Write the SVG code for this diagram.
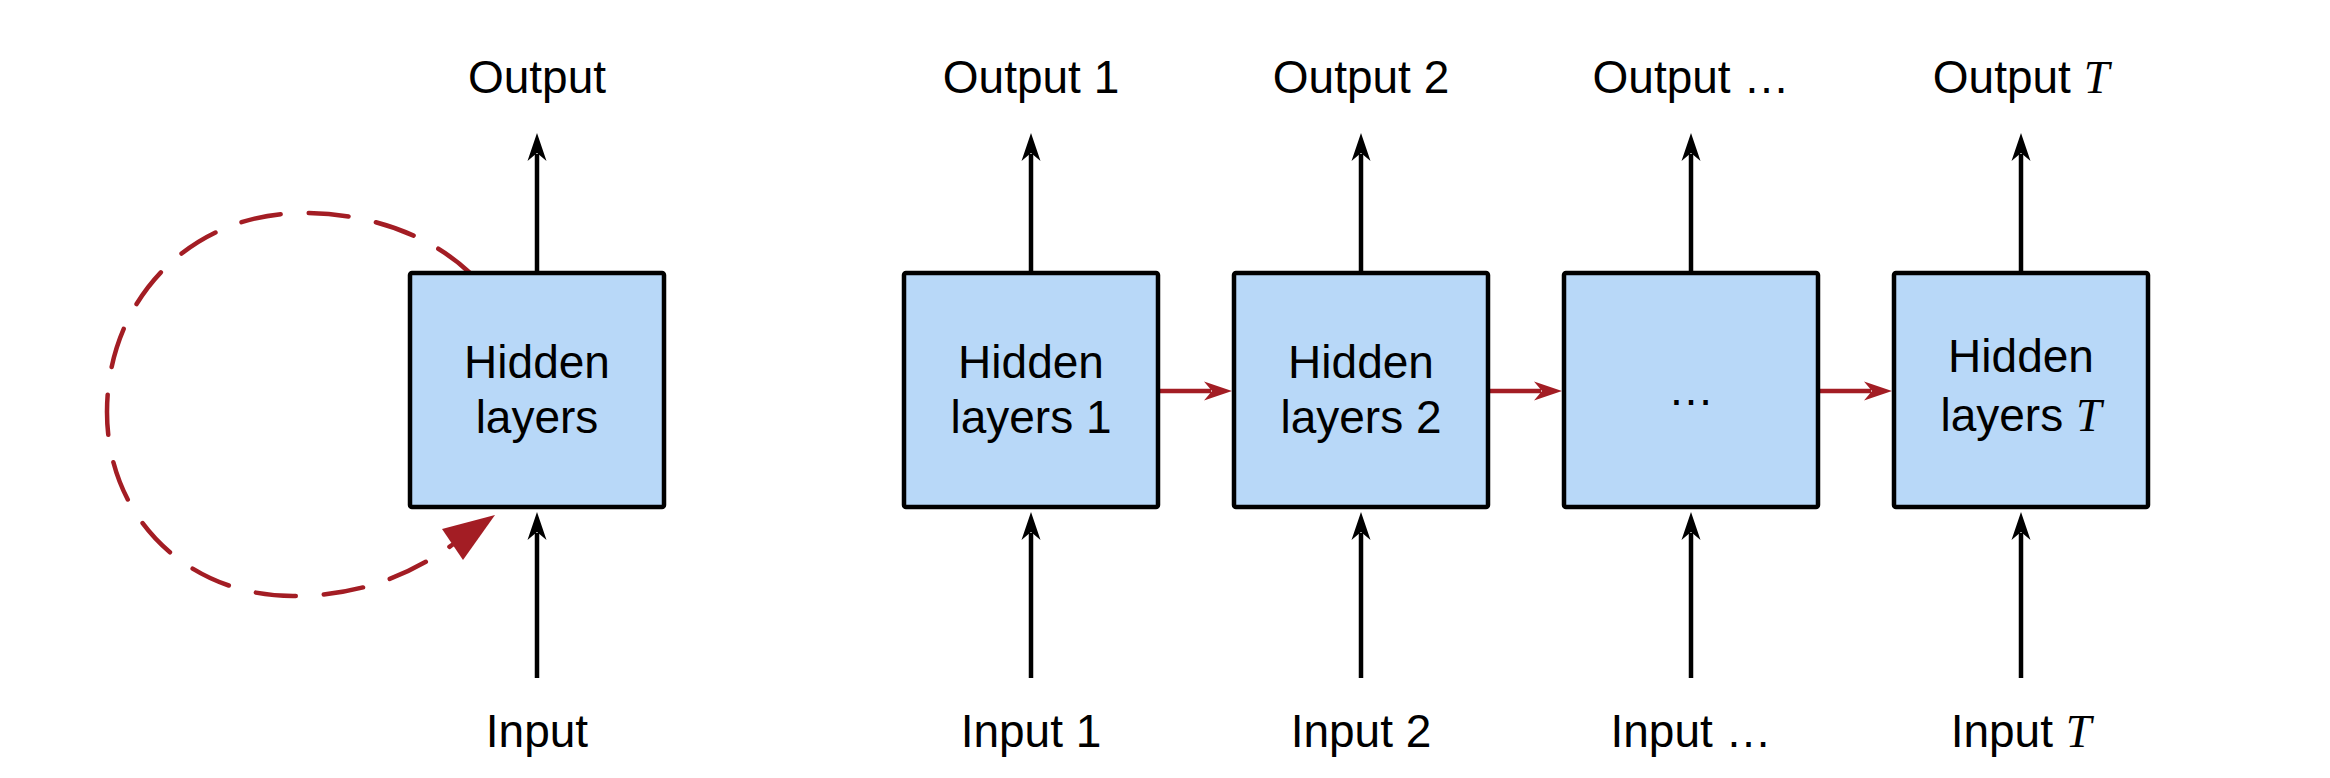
<svg xmlns="http://www.w3.org/2000/svg" width="2330" height="778" viewBox="0 0 2330 778">
<style>
.box{fill:#b8d8f8;stroke:#000;stroke-width:4.5}
.lbl{font-family:"Liberation Sans",Arial,sans-serif;font-size:46px;fill:#000;text-anchor:middle}
.m{font-family:"Liberation Serif","Times New Roman",serif;font-style:italic}
.blk{stroke:#000;stroke-width:4.5;fill:none}
.red{stroke:#a31d24;stroke-width:4.5;fill:none}
.loop{stroke:#a31d24;stroke-width:4.5;fill:none;stroke-dasharray:40 28;stroke-linecap:round}
</style>
<defs>
<marker id="ab" markerUnits="userSpaceOnUse" markerWidth="32" markerHeight="24" refX="7" refY="11" orient="auto">
<path d="M0,1.5 L28,11 L0,20.5 L8,11 Z" fill="#000"/>
</marker>
<marker id="ar" markerUnits="userSpaceOnUse" markerWidth="32" markerHeight="24" refX="7" refY="11" orient="auto">
<path d="M0,1.5 L28,11 L0,20.5 L8,11 Z" fill="#a31d24"/>
</marker>
</defs>
<g id="connectors">
<path class="blk" d="M537,273 V154" marker-end="url(#ab)"/>
<path class="blk" d="M537,678 V533" marker-end="url(#ab)"/>
<path class="blk" d="M1031,273 V154" marker-end="url(#ab)"/>
<path class="blk" d="M1031,678 V533" marker-end="url(#ab)"/>
<path class="blk" d="M1361,273 V154" marker-end="url(#ab)"/>
<path class="blk" d="M1361,678 V533" marker-end="url(#ab)"/>
<path class="blk" d="M1691,273 V154" marker-end="url(#ab)"/>
<path class="blk" d="M1691,678 V533" marker-end="url(#ab)"/>
<path class="blk" d="M2021,273 V154" marker-end="url(#ab)"/>
<path class="blk" d="M2021,678 V533" marker-end="url(#ab)"/>
<path class="red" d="M1158,391 H1211" marker-end="url(#ar)"/>
<path class="red" d="M1488,391 H1541" marker-end="url(#ar)"/>
<path class="red" d="M1818,391 H1871" marker-end="url(#ar)"/>
<path class="loop" d="M470,273 C430,235 370,213 303,213 C190,213 107,300 107,412 C107,520 190,596 293,596 C360,596 410,575 452,545"/>
<polygon points="442,529 495,515 463,560" fill="#a31d24"/>
</g>
<g id="node-h0">
<rect class="box" x="410" y="273" width="254" height="234" rx="2"/>
<text class="lbl" x="537" y="378">Hidden</text>
<text class="lbl" x="537" y="433">layers</text>
</g>
<g id="node-h1">
<rect class="box" x="904" y="273" width="254" height="234" rx="2"/>
<text class="lbl" x="1031" y="378">Hidden</text>
<text class="lbl" x="1031" y="433">layers 1</text>
</g>
<g id="node-h2">
<rect class="box" x="1234" y="273" width="254" height="234" rx="2"/>
<text class="lbl" x="1361" y="378">Hidden</text>
<text class="lbl" x="1361" y="433">layers 2</text>
</g>
<g id="node-h3">
<rect class="box" x="1564" y="273" width="254" height="234" rx="2"/>
<text class="lbl" x="1691" y="405">…</text>
</g>
<g id="node-hT">
<rect class="box" x="1894" y="273" width="254" height="234" rx="2"/>
<text class="lbl" x="2021" y="372">Hidden</text>
<text class="lbl" x="2021" y="431">layers <tspan class="m">T</tspan></text>
</g>
<g id="outputs">
<text class="lbl" x="537" y="93">Output</text>
<text class="lbl" x="1031" y="93">Output 1</text>
<text class="lbl" x="1361" y="93">Output 2</text>
<text class="lbl" x="1691" y="93">Output …</text>
<text class="lbl" x="2021" y="93">Output <tspan class="m">T</tspan></text>
</g>
<g id="inputs">
<text class="lbl" x="537" y="747">Input</text>
<text class="lbl" x="1031" y="747">Input 1</text>
<text class="lbl" x="1361" y="747">Input 2</text>
<text class="lbl" x="1691" y="747">Input …</text>
<text class="lbl" x="2021" y="747">Input <tspan class="m">T</tspan></text>
</g>
</svg>
